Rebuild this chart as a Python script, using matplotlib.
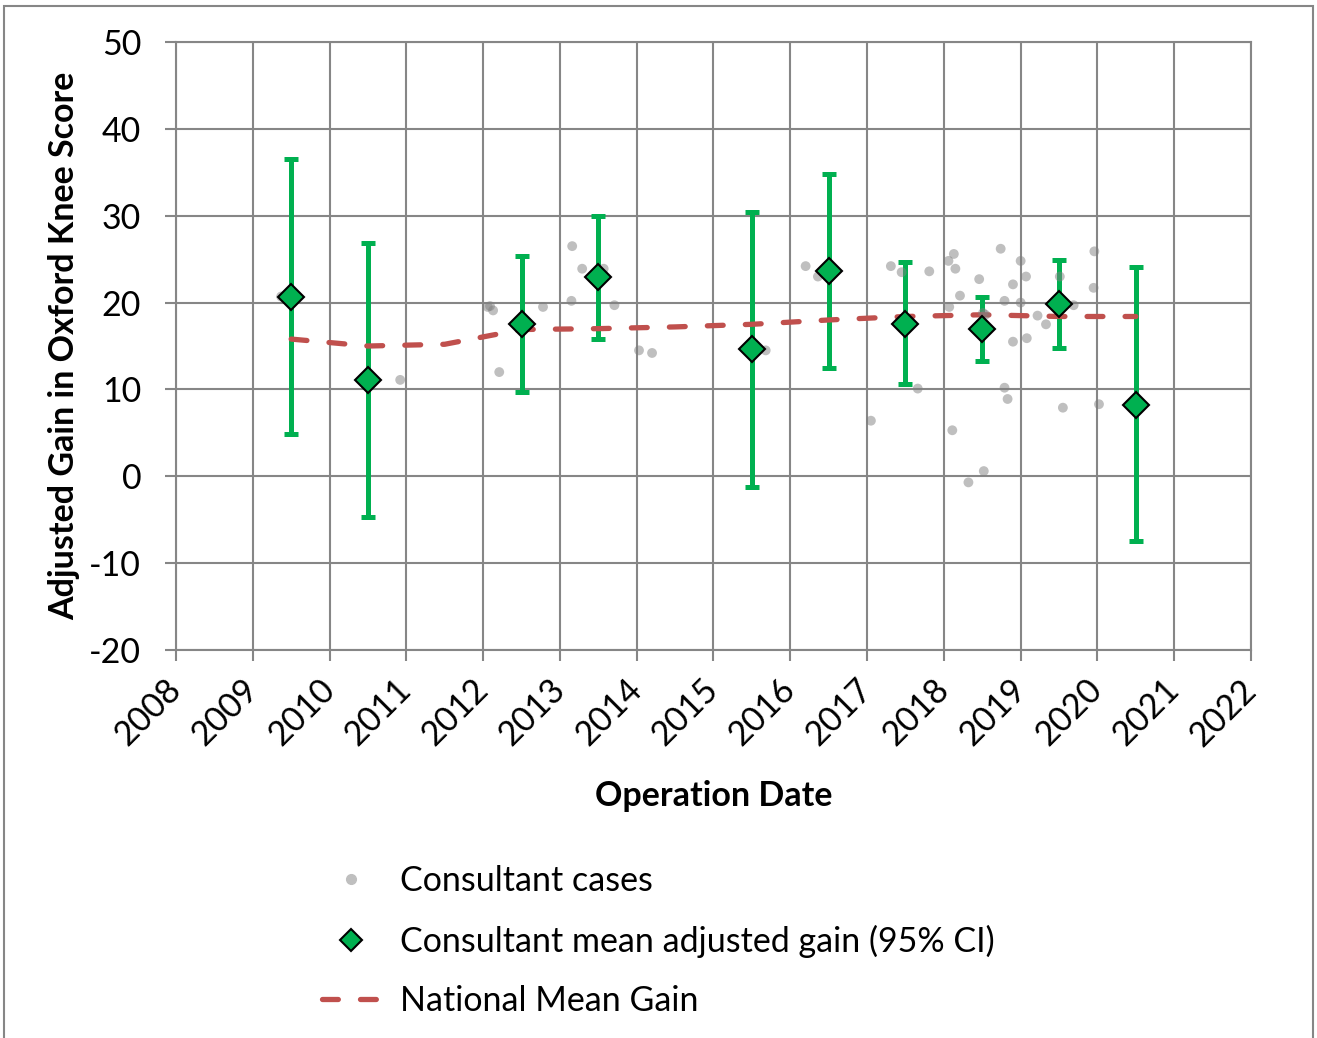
import matplotlib
matplotlib.use("Agg")
import matplotlib.pyplot as plt
from matplotlib.lines import Line2D
from matplotlib.patches import Rectangle

plt.rcParams['font.family'] = ['Lato', 'DejaVu Sans']
plt.rcParams['axes.unicode_minus'] = False

# Окремі випадки консультанта (сірі точки)
case_x = [2009.37, 2010.92, 2012.06, 2012.09, 2012.13, 2012.21, 2012.78, 2013.15, 2013.16,
          2013.29, 2013.57, 2013.71, 2014.03, 2014.20, 2015.68, 2016.20, 2016.36, 2017.05,
          2017.31, 2017.45, 2017.66, 2017.81, 2018.06, 2018.13, 2018.15, 2018.46, 2018.21,
          2018.07, 2018.11, 2018.32, 2018.52, 2018.51, 2018.54, 2018.74, 2019.00, 2019.07,
          2018.90, 2018.79, 2019.00, 2019.22, 2019.33, 2018.90, 2019.08, 2018.79, 2018.83,
          2019.51, 2019.69, 2019.96, 2019.95, 2019.55, 2020.02]
case_y = [20.7, 11.1, 19.5, 19.6, 19.1, 12.0, 19.5, 20.2, 26.5,
          23.9, 23.9, 19.7, 14.5, 14.2, 14.5, 24.2, 23.0, 6.4,
          24.2, 23.5, 10.1, 23.6, 24.8, 25.6, 23.9, 22.7, 20.8,
          19.5, 5.3, -0.7, 0.6, 18.8, 18.6, 26.2, 24.8, 23.0,
          22.1, 20.2, 20.0, 18.5, 17.5, 15.5, 15.9, 10.2, 8.9,
          23.0, 19.7, 25.9, 21.7, 7.9, 8.3]

# Середній скоригований приріст за рік та 95% ДІ
mean_x = [2009.5, 2010.5, 2012.5, 2013.5, 2015.5, 2016.5, 2017.5, 2018.5, 2019.5, 2020.5]
mean_y = [20.6, 11.1, 17.5, 22.9, 14.6, 23.6, 17.5, 17.0, 19.8, 8.2]
ci_low = [4.9, -4.7, 9.7, 15.8, -1.2, 12.5, 10.6, 13.3, 14.8, -7.5]
ci_high = [36.5, 26.9, 25.4, 30.0, 30.4, 34.8, 24.7, 20.6, 24.9, 24.1]

# Національний середній приріст
nat_x = [2009.5, 2010.5, 2011.5, 2012.5, 2013.5, 2014.5, 2015.5, 2016.5, 2017.5, 2018.5, 2019.5, 2020.5]
nat_y = [15.8, 15.0, 15.2, 16.9, 17.0, 17.2, 17.5, 18.0, 18.4, 18.6, 18.4, 18.4]

years = list(range(2008, 2023))

green = '#00B050'
red = '#C0504D'
grid_col = '#868686'
fs = 24.5

fig = plt.figure(figsize=(13.17, 10.38), dpi=100)
ax = fig.add_axes([0.1336, 0.3738, 0.8163, 0.5857])

# Похибки (95% ДІ)
err_lo = [m - l for m, l in zip(mean_y, ci_low)]
err_hi = [h - m for m, h in zip(mean_y, ci_high)]
ax.errorbar(mean_x, mean_y, yerr=[err_lo, err_hi], fmt='none', ecolor=green,
            elinewidth=3.6, capsize=5, capthick=3.6, zorder=3)

ax.plot(nat_x, nat_y, color=red, lw=3.8, dashes=(3, 4.2), dash_capstyle='round', zorder=4)

ax.scatter(case_x, case_y, s=50, color='#808080', alpha=0.5, edgecolors='none', zorder=5)

ax.plot(mean_x, mean_y, 'D', ms=13.5, mfc=green, mec='black', mew=1.5, ls='none', zorder=6)

ax.set_xlim(2008, 2022)
ax.set_ylim(-20, 50)
ax.set_xticks(years)
ax.set_xticklabels([str(y) for y in years], rotation=45, ha='right', va='center',
                   rotation_mode='anchor')
ax.set_yticks(range(-20, 60, 10))
ax.tick_params(axis='both', labelsize=fs, length=8, width=1.5, color=grid_col)
ax.tick_params(axis='x', pad=17)
ax.tick_params(axis='y', pad=17)
ax.grid(True, color=grid_col, lw=1.5)
ax.set_axisbelow(True)
for s in ax.spines.values():
    s.set_color(grid_col)
    s.set_linewidth(1.5)

ax.set_xlabel('Operation Date', fontsize=fs, fontweight='bold', labelpad=20)
ax.set_ylabel('Adjusted Gain in Oxford Knee Score', fontsize=fs, fontweight='bold', labelpad=6.5)

handles = [
    Line2D([], [], marker='o', ls='none', color='#BFBFBF', ms=7),
    Line2D([], [], marker='D', ls='none', mfc=green, mec='black', mew=1.5, ms=11),
    Line2D([], [], color=red, lw=3.8, dashes=(3, 4.2), dash_capstyle='round'),
]
labels = ['Consultant cases', 'Consultant mean adjusted gain (95% CI)', 'National Mean Gain']
fig.legend(handles, labels, loc='upper left', bbox_to_anchor=(0.221, 0.196), frameon=False,
           fontsize=fs, handlelength=1.75, handletextpad=0.55, labelspacing=0.8)

# Рамка навколо всієї діаграми
fig.patches.append(Rectangle((0.003, -0.05), 0.994, 1.044, transform=fig.transFigure,
                             fill=False, edgecolor=grid_col, lw=1.5))

fig.savefig('out.png', dpi=100)
